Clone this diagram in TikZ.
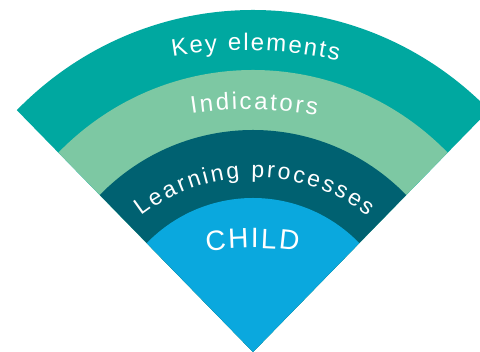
\documentclass[tikz,border=0pt]{standalone}
\usepackage{fontspec}
\setmainfont{Liberation Sans}
\usetikzlibrary{decorations.text}
\definecolor{keycol}{HTML}{00A8A0}
\definecolor{indcol}{HTML}{7DC8A3}
\definecolor{learncol}{HTML}{006171}
\definecolor{childcol}{HTML}{0AA8DE}
\begin{document}
\begin{tikzpicture}[x=1pt,y=1pt,
  arctext/.style={decorate,decoration={text along path,text align={fit to path},text={#1}}}]
\useasboundingbox (0,0) rectangle (480,352);
\clip (0,0) rectangle (480,352);
\coordinate (apex) at (253,0);
% bands
\fill[keycol] (apex) -- ++(135:334pt and 342pt) arc[start angle=135,end angle=45,x radius=334pt,y radius=342pt] -- cycle;
\fill[indcol] (apex) -- ++(135:275.2pt and 282pt) arc[start angle=135,end angle=45,x radius=275.2pt,y radius=282pt] -- cycle;
\fill[learncol] (apex) -- ++(135:216.7pt and 222pt) arc[start angle=135,end angle=45,x radius=216.7pt,y radius=222pt] -- cycle;
\fill[childcol] (apex) -- ++(135:150.3pt and 154pt) arc[start angle=135,end angle=45,x radius=150.3pt,y radius=154pt] -- cycle;
% text centres
\coordinate (kc) at (245,-143.5);
\coordinate (ic) at (250,-142.5);
\coordinate (lc) at (254.5,-12);
\coordinate (cc) at (253,-226);
\path[arctext={|\fontsize{24}{24}\selectfont\color{white}|Key elements}]
  ([shift={(99.35:445pt)}]kc) arc[start angle=99.35,end angle=77.9,radius=445pt];
\path[arctext={|\fontsize{24}{24}\selectfont\color{white}|Indicators}]
  ([shift={(98.71:385pt)}]ic) arc[start angle=98.71,end angle=80.02,radius=385pt];
\path[arctext={|\fontsize{23}{23}\selectfont\color{white}|Learning processes}]
  ([shift={(127.5:186.5pt)}]lc) arc[start angle=127.5,end angle=52.5,radius=186.5pt];
\path[arctext={|\fontsize{28}{28}\selectfont\color{white}|CHILD}]
  ([shift={(98.07:330pt)}]cc) arc[start angle=98.07,end angle=82.1,radius=330pt];
\end{tikzpicture}
\end{document}
